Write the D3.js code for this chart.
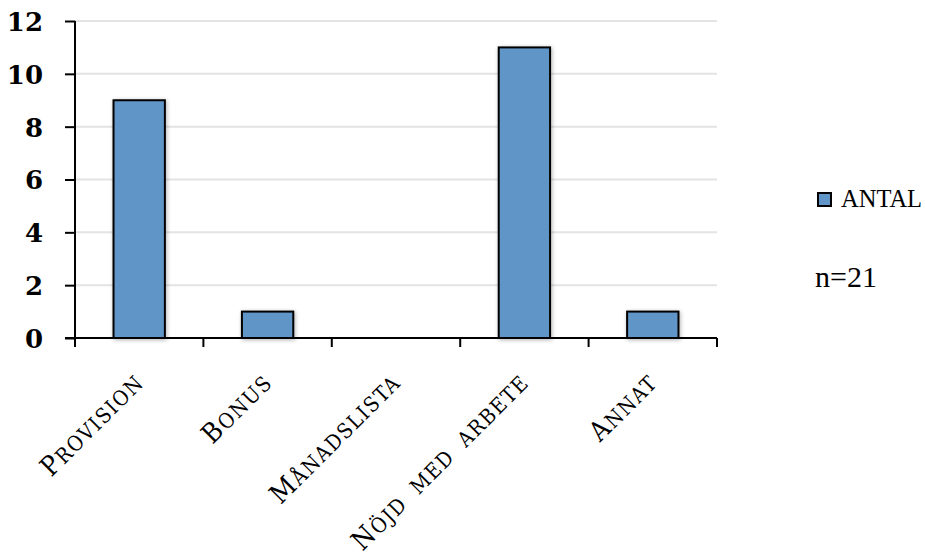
<!DOCTYPE html>
<html>
<head>
<meta charset="utf-8">
<script src="https://cdn.jsdelivr.net/npm/d3@7"></script>
<style>
  html, body { margin: 0; padding: 0; background: #fff; }
  svg { display: block; }
</style>
</head>
<body>
<svg id="chart" width="925" height="558"></svg>
<script>
// Answers per category
const categories = ["Provision", "Bonus", "Månadslista", "Nöjd med arbete", "Annat"];
const antal = [9, 1, 0, 11, 1];
const yTicks = [0, 2, 4, 6, 8, 10, 12];
const seriesName = "ANTAL";
const note = "n=21";

const svg = d3.select("#chart");
const margin = { left: 75, right: 208, top: 21, bottom: 220 };
const W = 925, H = 558;

const x = d3.scaleBand()
  .domain(categories)
  .range([margin.left, W - margin.right])
  .paddingInner(0.6)
  .paddingOuter(0.3);

const y = d3.scaleLinear()
  .domain([0, 12])
  .range([H - margin.bottom, margin.top]);

// soft drop shadow for bars
const defs = svg.append("defs");
const f = defs.append("filter").attr("id", "shadow")
  .attr("x", "-20%").attr("y", "-20%").attr("width", "140%").attr("height", "140%");
f.append("feGaussianBlur").attr("in", "SourceAlpha").attr("stdDeviation", 2).attr("result", "b");
f.append("feOffset").attr("in", "b").attr("dx", 1).attr("dy", 1).attr("result", "o");
f.append("feComponentTransfer").attr("in", "o").attr("result", "s")
  .append("feFuncA").attr("type", "linear").attr("slope", 0.3);
const fm = f.append("feMerge");
fm.append("feMergeNode").attr("in", "s");
fm.append("feMergeNode").attr("in", "SourceGraphic");

// gridlines
svg.append("g")
  .selectAll("line")
  .data(yTicks.filter(d => d > 0))
  .join("line")
  .attr("x1", margin.left)
  .attr("x2", W - margin.right)
  .attr("y1", d => y(d))
  .attr("y2", d => y(d))
  .attr("stroke", "#e3e3e3")
  .attr("stroke-width", 2);

// bars
svg.append("g")
  .selectAll("rect")
  .data(categories.map((c, i) => ({ c, v: antal[i] })).filter(d => d.v > 0))
  .join("rect")
  .attr("x", d => x(d.c))
  .attr("y", d => y(d.v))
  .attr("width", x.bandwidth())
  .attr("height", d => y(0) - y(d.v))
  .attr("fill", "#6195c8")
  .attr("stroke", "#000")
  .attr("stroke-width", 2)
  .attr("filter", "url(#shadow)");

// y axis
const yAxis = svg.append("g")
  .attr("transform", `translate(${margin.left},0)`)
  .call(d3.axisLeft(y).tickValues(yTicks).tickSize(10).tickPadding(22));
yAxis.select(".domain").attr("stroke", "#000").attr("stroke-width", 2)
  .attr("d", `M0,${y(12)}V${y(0)}`);
yAxis.selectAll(".tick line").attr("stroke", "#000").attr("stroke-width", 2);
yAxis.selectAll(".tick text")
  .attr("fill", "#000")
  .style("font-family", "'DejaVu Serif', serif")
  .style("font-weight", "bold")
  .style("font-size", "26px")
  .attr("dy", "0.36em");

// x axis with boundary ticks between categories
const xAxisG = svg.append("g").attr("transform", `translate(0,${y(0)})`);
const step = x.step();
const edges = d3.range(categories.length + 1).map(i => margin.left + i * step);
xAxisG.append("line")
  .attr("x1", margin.left - 10).attr("x2", W - margin.right)
  .attr("y1", 0).attr("y2", 0)
  .attr("stroke", "#000").attr("stroke-width", 2);
xAxisG.selectAll("line.tk")
  .data(edges)
  .join("line")
  .attr("class", "tk")
  .attr("x1", d => d).attr("x2", d => d)
  .attr("y1", 0).attr("y2", 9)
  .attr("stroke", "#000").attr("stroke-width", 2);

// rotated category labels: large initial, small caps for the rest
const lbl = xAxisG.selectAll("text.lbl")
  .data(categories)
  .join("text")
  .attr("class", "lbl")
  .attr("transform", d => `translate(${x(d) + x.bandwidth() / 2 + 6},${46}) rotate(-45)`)
  .attr("text-anchor", "end")
  .style("font-family", "'DejaVu Serif Condensed', 'DejaVu Serif', serif")
  .style("letter-spacing", "1.5px")
  .style("word-spacing", "4px")
  .attr("fill", "#000");
lbl.append("tspan")
  .style("font-size", "27px")
  .text(d => d.slice(0, 1));
lbl.append("tspan")
  .style("font-size", "30px")
  .style("font-variant", "small-caps")
  .text(d => d.slice(1));

// legend
const lg = svg.append("g").attr("transform", "translate(818,193)");
lg.append("rect")
  .attr("width", 13).attr("height", 13)
  .attr("fill", "#6195c8").attr("stroke", "#000").attr("stroke-width", 2);
lg.append("text")
  .attr("x", 23).attr("y", 14)
  .style("font-family", "'Liberation Serif', serif")
  .style("font-size", "24.5px")
  .attr("fill", "#000")
  .text(seriesName);

svg.append("text")
  .attr("x", 815).attr("y", 287)
  .style("font-family", "'Liberation Serif', serif")
  .style("font-size", "30px")
  .attr("fill", "#000")
  .text(note);
</script>
</body>
</html>
